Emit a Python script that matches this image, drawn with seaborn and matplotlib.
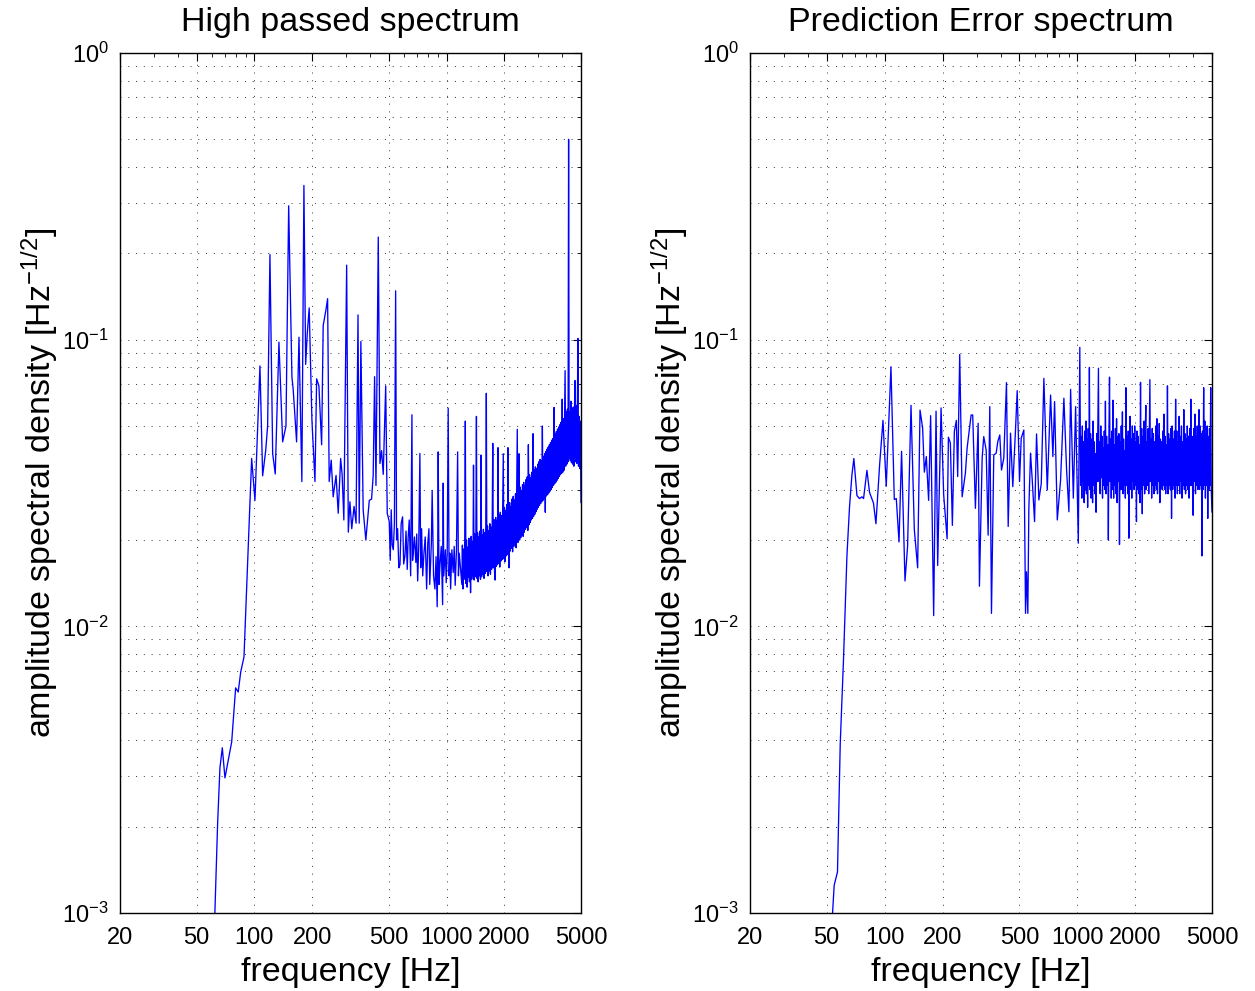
import numpy as np
import pandas as pd
import matplotlib
matplotlib.use("Agg")
import matplotlib.pyplot as plt
import seaborn as sns
from matplotlib.ticker import LogLocator, NullFormatter

# ---------------- data ----------------
# High passed spectrum: low-frequency part (read point by point)
left_freq_low = [
    58, 62, 64.4, 66.2, 68.1, 70.3, 76.2, 79.9, 82.4, 84.9,
    88.3, 96.8, 100.7, 106.9, 110.4, 114.5, 117.2, 120.5, 124.5, 128.4,
    134.2, 140.3, 146, 150.8, 156.8, 159.2, 165.8, 170.6, 176.6, 181,
    184.8, 188.4, 192.8, 199.2, 206.6, 210.8, 216.6, 223.8, 228, 235.6,
    240.4, 245, 251, 257, 266, 273, 281, 286, 292, 302,
    308, 314, 321, 330, 338, 346, 351, 358, 368, 380,
    388, 396, 407, 415, 422, 429, 441, 450, 459, 468,
    482, 491, 503, 509, 515, 521, 528, 535, 543, 549,
    556, 564, 572, 580, 590, 598, 607, 615, 624, 631,
    639, 650, 660, 665, 670, 680, 692, 699, 707, 716,
    726, 733, 741, 751, 762, 774, 787, 798, 809, 817,
    826, 833, 841, 855, 869, 881, 893, 898, 904, 913,
    923, 938, 953, 960, 966, 976, 985, 995, 1007, 1019,
    1030, 1039, 1049, 1065, 1082, 1095, 1108, 1125, 1141, 1152,
    1163,
]
left_amp_low = [
    0.0004, 0.0009, 0.00206, 0.00321, 0.00377, 0.00296, 0.00395, 0.0061, 0.0059, 0.00693,
    0.00782, 0.0385, 0.0275, 0.081, 0.0335, 0.041, 0.05, 0.198, 0.04, 0.034,
    0.098, 0.044, 0.05, 0.293, 0.074, 0.067, 0.044, 0.102, 0.032, 0.345,
    0.082, 0.105, 0.129, 0.0525, 0.032, 0.073, 0.069, 0.043, 0.112, 0.127,
    0.139, 0.032, 0.038, 0.0283, 0.0336, 0.0248, 0.0385, 0.0339, 0.0235, 0.182,
    0.0213, 0.0272, 0.0219, 0.0262, 0.0229, 0.122, 0.0229, 0.0985, 0.0255, 0.02,
    0.0235, 0.0275, 0.0278, 0.0336, 0.0743, 0.031, 0.228, 0.037, 0.041, 0.0339,
    0.069, 0.0248, 0.0232, 0.0170, 0.0255, 0.0192, 0.0185, 0.0228, 0.148, 0.0200,
    0.0219, 0.0160, 0.0164, 0.0228, 0.0241, 0.0165, 0.0176, 0.0215, 0.0158, 0.0205,
    0.0235, 0.0150, 0.0547, 0.0170, 0.0180, 0.0205, 0.0167, 0.0210, 0.0144, 0.0190,
    0.0401, 0.0160, 0.0219, 0.0150, 0.0180, 0.0205, 0.0135, 0.0195, 0.0219, 0.0140,
    0.0171, 0.0195, 0.0298, 0.0150, 0.0135, 0.0175, 0.0117, 0.0160, 0.0406, 0.0140,
    0.0163, 0.0190, 0.0119, 0.0316, 0.0150, 0.0167, 0.0185, 0.0142, 0.0180, 0.0577,
    0.0150, 0.0180, 0.0135, 0.0185, 0.0154, 0.0190, 0.0139, 0.0185, 0.0406, 0.0150,
    0.0180,
]

# Frequencies of the dense high-frequency band (both panels)
band_freq = [
    1200, 1208, 1217, 1225, 1234, 1242, 1251, 1260, 1269, 1278,
    1287, 1296, 1305, 1314, 1323, 1332, 1342, 1351, 1361, 1370,
    1380, 1390, 1399, 1409, 1419, 1429, 1439, 1449, 1459, 1469,
    1480, 1490, 1500, 1511, 1521, 1532, 1543, 1554, 1565, 1576,
    1587, 1598, 1609, 1620, 1632, 1643, 1655, 1666, 1678, 1690,
    1702, 1714, 1726, 1738, 1750, 1762, 1775, 1787, 1800, 1812,
    1825, 1838, 1851, 1864, 1877, 1890, 1903, 1917, 1930, 1944,
    1957, 1971, 1985, 1999, 2013, 2027, 2041, 2055, 2070, 2084,
    2099, 2114, 2128, 2143, 2158, 2173, 2189, 2204, 2220, 2235,
    2251, 2267, 2282, 2298, 2315, 2331, 2347, 2364, 2380, 2397,
    2414, 2431, 2448, 2465, 2482, 2500, 2517, 2535, 2553, 2571,
    2589, 2607, 2625, 2644, 2662, 2681, 2700, 2719, 2738, 2757,
    2776, 2796, 2815, 2835, 2855, 2875, 2895, 2915, 2936, 2956,
    2977, 2998, 3019, 3040, 3061, 3083, 3104, 3126, 3148, 3170,
    3192, 3215, 3237, 3260, 3283, 3306, 3329, 3352, 3376, 3399,
    3423, 3447, 3471, 3496, 3520, 3545, 3570, 3595, 3620, 3645,
    3671, 3697, 3722, 3749, 3775, 3801, 3828, 3855, 3882, 3909,
    3936, 3964, 3992, 4020, 4048, 4076, 4105, 4133, 4162, 4191,
    4221, 4250, 4280, 4310, 4340, 4370, 4401, 4432, 4463, 4494,
    4526, 4557, 4589, 4622, 4654, 4687, 4720, 4753, 4786, 4820,
    4853, 4887, 4922, 4956, 5000,
]
left_amp_band = [
    0.0140, 0.0192, 0.0135, 0.0186, 0.0146, 0.0198, 0.052, 0.0141, 0.0200, 0.0137,
    0.0189, 0.0148, 0.0203, 0.0143, 0.0195, 0.0131, 0.0206, 0.0146, 0.0198, 0.0150,
    0.0365, 0.0145, 0.0210, 0.0149, 0.0201, 0.054, 0.0147, 0.0212, 0.0143, 0.0205,
    0.0150, 0.0215, 0.0146, 0.0396, 0.0149, 0.0209, 0.0152, 0.0218, 0.0147, 0.0212,
    0.0153, 0.0220, 0.065, 0.0155, 0.0224, 0.0150, 0.0216, 0.0156, 0.0228, 0.0152,
    0.0222, 0.0158, 0.0231, 0.0435, 0.0160, 0.0236, 0.0155, 0.0145, 0.0240, 0.0162,
    0.0234, 0.0164, 0.042, 0.0166, 0.0245, 0.0161, 0.0250, 0.0169, 0.0243, 0.0171,
    0.0255, 0.040, 0.0172, 0.0260, 0.0168, 0.0254, 0.0176, 0.0266, 0.0178, 0.042,
    0.0180, 0.0160, 0.0270, 0.0183, 0.0262, 0.0187, 0.0278, 0.0182, 0.0284, 0.0190,
    0.0276, 0.0193, 0.0290, 0.0188, 0.0295, 0.0487, 0.0196, 0.0300, 0.040, 0.0200,
    0.0306, 0.0204, 0.0298, 0.0209, 0.0312, 0.0206, 0.0318, 0.0213, 0.0310, 0.0218,
    0.0325, 0.0221, 0.0332, 0.0216, 0.043, 0.0226, 0.0338, 0.0230, 0.0330, 0.0235,
    0.0345, 0.0238, 0.047, 0.0242, 0.0352, 0.0246, 0.0360, 0.0251, 0.0356, 0.0256,
    0.0368, 0.0260, 0.0375, 0.0264, 0.0382, 0.0268, 0.0378, 0.0272, 0.050, 0.0275,
    0.0392, 0.0279, 0.0400, 0.0250, 0.0407, 0.0285, 0.0415, 0.0288, 0.0422, 0.0292,
    0.0430, 0.0296, 0.0438, 0.0300, 0.0446, 0.0305, 0.0452, 0.0310, 0.058, 0.0314,
    0.0470, 0.0318, 0.0478, 0.0323, 0.0488, 0.0328, 0.0496, 0.0333, 0.0505, 0.0338,
    0.0515, 0.0342, 0.062, 0.0345, 0.0530, 0.0350, 0.0545, 0.078, 0.0362, 0.0560,
    0.0368, 0.0572, 0.0375, 0.50, 0.0385, 0.0560, 0.0378, 0.061, 0.0372, 0.0575,
    0.0368, 0.0582, 0.0362, 0.0568, 0.072, 0.0375, 0.0590, 0.0370, 0.0575, 0.101,
    0.0362, 0.0540, 0.0355, 0.0520, 0.0270,
]

# Prediction Error spectrum: low-frequency part (read point by point)
right_freq_low = [
    52, 54.7, 56.9, 58.8, 61.1, 63.7, 65.7, 67.6, 69.2, 71.8,
    74.0, 76.2, 77.7, 80.9, 83.5, 87.5, 90.1, 94.1, 98.0, 101.9,
    107.8, 112.2, 114.9, 118.7, 122.4, 127.5, 131.5, 137.0, 142.5, 148.3,
    152.6, 157.4, 160.7, 164.5, 169.1, 173.2, 179.6, 184.8, 188.4, 196.2,
    202.4, 210.9, 214.2, 219.3, 224.6, 230.0, 235.6, 239.3, 245.2, 252.4,
    262.4, 267.8, 281.0, 286.4, 295.8, 305.6, 310.4, 320.6, 326.8, 336.4,
    344.4, 351.2, 358.4, 368.4, 379.2, 386.4, 395.8, 404.0, 415.2, 428.8,
    437.6, 450.0, 462.4, 477.6, 487.4, 501.2, 511.4, 527.6, 538.4, 545.0,
    553.4, 560.2, 571.6, 583.4, 599.8, 614.2, 631.4, 649.8, 670.4, 698.2,
    726.4, 746.6, 762.0, 787.0, 818.6, 851.6, 879.6, 904.2, 922.8, 953.2,
    979.6, 1011.8, 1030,
    1040, 1047, 1055, 1062, 1070, 1077, 1085, 1092, 1100, 1108,
    1115, 1123, 1131, 1139, 1147, 1155, 1163, 1171, 1179, 1188,
]
right_amp_low = [
    0.0007, 0.00125, 0.00139, 0.00389, 0.00757, 0.0176, 0.0261, 0.0337, 0.0385, 0.0286,
    0.0279, 0.0283, 0.0279, 0.035, 0.0293, 0.0269, 0.0228, 0.0364, 0.0523, 0.0308,
    0.0804, 0.0277, 0.0279, 0.0197, 0.0408, 0.0144, 0.019, 0.059, 0.0218, 0.016,
    0.0568, 0.0492, 0.0345, 0.0391, 0.0275, 0.0543, 0.0109, 0.0563, 0.0163, 0.0578,
    0.0288, 0.0202, 0.0457, 0.0436, 0.0225, 0.0478, 0.0523, 0.0333, 0.0888, 0.0283,
    0.0342, 0.0418, 0.0546, 0.0546, 0.0258, 0.0511, 0.0138, 0.0386, 0.0459, 0.0412,
    0.0208, 0.0584, 0.0111, 0.0396, 0.0402, 0.0441, 0.0465, 0.0351, 0.0386, 0.0708,
    0.0223, 0.0472, 0.0307, 0.0484, 0.0664, 0.032, 0.0453, 0.0484, 0.0111, 0.0155,
    0.0111, 0.0258, 0.0402, 0.0324, 0.0232, 0.0469, 0.0276, 0.0314, 0.0733, 0.0299,
    0.0641, 0.0391, 0.0608, 0.0235, 0.0324, 0.0625, 0.0351, 0.0251, 0.0671, 0.028,
    0.0584, 0.0195, 0.094,
    0.031, 0.046, 0.028, 0.050, 0.032, 0.044, 0.027, 0.048, 0.030, 0.052,
    0.029, 0.045, 0.026, 0.049, 0.031, 0.080, 0.030, 0.047, 0.028, 0.045,
]
right_amp_band = [
    0.027, 0.052, 0.031, 0.044, 0.029, 0.040, 0.025, 0.047, 0.032, 0.049,
    0.0795, 0.032, 0.044, 0.029, 0.050, 0.033, 0.046, 0.028, 0.042, 0.031,
    0.048, 0.030, 0.061, 0.029, 0.046, 0.031, 0.043, 0.020, 0.047, 0.074,
    0.032, 0.045, 0.028, 0.048, 0.030, 0.0615, 0.028, 0.043, 0.031, 0.049,
    0.029, 0.053, 0.027, 0.046, 0.032, 0.047, 0.0193, 0.044, 0.030, 0.050,
    0.030, 0.056, 0.029, 0.045, 0.031, 0.041, 0.028, 0.068, 0.031, 0.046,
    0.029, 0.048, 0.0203, 0.044, 0.054, 0.030, 0.045, 0.028, 0.050, 0.032,
    0.047, 0.030, 0.050, 0.031, 0.044, 0.0232, 0.048, 0.030, 0.046, 0.029,
    0.043, 0.027, 0.071, 0.030, 0.049, 0.0247, 0.046, 0.031, 0.052, 0.029,
    0.047, 0.059, 0.030, 0.044, 0.031, 0.049, 0.029, 0.046, 0.0725, 0.032,
    0.045, 0.028, 0.049, 0.031, 0.047, 0.029, 0.044, 0.031, 0.050, 0.030,
    0.053, 0.029, 0.046, 0.032, 0.051, 0.027, 0.045, 0.031, 0.044, 0.030,
    0.048, 0.031, 0.055, 0.030, 0.046, 0.029, 0.043, 0.031, 0.069, 0.029,
    0.047, 0.031, 0.045, 0.030, 0.049, 0.0238, 0.050, 0.030, 0.045, 0.031,
    0.048, 0.028, 0.062, 0.031, 0.048, 0.029, 0.044, 0.031, 0.054, 0.029,
    0.046, 0.032, 0.050, 0.028, 0.044, 0.031, 0.057, 0.030, 0.047, 0.029,
    0.045, 0.031, 0.050, 0.030, 0.046, 0.028, 0.049, 0.031, 0.062, 0.031,
    0.046, 0.030, 0.0244, 0.049, 0.032, 0.055, 0.029, 0.046, 0.031, 0.050,
    0.030, 0.046, 0.057, 0.030, 0.050, 0.031, 0.047, 0.0176, 0.048, 0.030,
    0.068, 0.031, 0.052, 0.028, 0.047, 0.031, 0.050, 0.0238, 0.046, 0.030,
    0.049, 0.031, 0.068, 0.030, 0.025,
]

x_ticks = [20, 50, 100, 200, 500, 1000, 2000, 5000]
x_tick_labels = ["20", "50", "100", "200", "500", "1000", "2000", "5000"]
titles = ["High passed spectrum", "Prediction Error spectrum"]
x_label = "frequency [Hz]"
y_label = r"amplitude spectral density [Hz$^{-1/2}$]"

# ---------------- style ----------------
sns.set_style("white")
plt.rcParams["font.family"] = ["Liberation Sans", "DejaVu Sans"]
plt.rcParams["mathtext.fontset"] = "custom"
plt.rcParams["mathtext.rm"] = "Liberation Sans"
plt.rcParams["mathtext.it"] = "Liberation Sans:italic"
plt.rcParams["mathtext.bf"] = "Liberation Sans:bold"
plt.rcParams["mathtext.default"] = "regular"
plt.rcParams["text.color"] = "black"
plt.rcParams["axes.labelcolor"] = "black"
plt.rcParams["xtick.color"] = "black"
plt.rcParams["ytick.color"] = "black"

fig = plt.figure(figsize=(12.55, 9.91), dpi=100)
W, H = 1255, 991
positions = [
    [120 / W, 78 / H, 461 / W, 860 / H],
    [750 / W, 78 / H, 462 / W, 860 / H],
]
panels = [
    (left_freq_low + band_freq, left_amp_low + left_amp_band),
    (right_freq_low + band_freq, right_amp_low + right_amp_band),
]

grid_kw = dict(color="0.2", linestyle=(0, (1, 7)), linewidth=0.7)

for pos, (fr, am), title in zip(positions, panels, titles):
    assert len(fr) == len(am), (len(fr), len(am))
    ax = fig.add_axes(pos)
    ax.set_xscale("log")
    ax.set_yscale("log")
    df = pd.DataFrame({"freq": fr, "amp": am})
    sns.lineplot(data=df, x="freq", y="amp", ax=ax, color="#0000ff",
                 linewidth=0.95, estimator=None, sort=False)
    ax.set_xlim(20, 5000)
    ax.set_ylim(1e-3, 1)
    ax.set_xticks(x_ticks)
    ax.set_xticklabels(x_tick_labels)
    ax.xaxis.set_minor_locator(LogLocator(base=10, subs=np.arange(2, 10)))
    ax.xaxis.set_minor_formatter(NullFormatter())
    ax.yaxis.set_major_locator(LogLocator(base=10, numticks=10))
    ax.yaxis.set_minor_locator(LogLocator(base=10, subs=np.arange(2, 10), numticks=10))
    ax.yaxis.set_minor_formatter(NullFormatter())

    ax.grid(False)
    ax.xaxis.grid(True, which="major", **grid_kw)
    ax.yaxis.grid(True, which="both", **grid_kw)
    ax.set_axisbelow(True)

    ax.tick_params(which="both", direction="in", top=True, right=True,
                   colors="black", labelsize=17)
    ax.tick_params(which="major", length=6, width=0.8)
    ax.tick_params(which="minor", length=3, width=0.6)
    ax.tick_params(axis="x", which="major", pad=10)
    ax.tick_params(axis="y", which="major", pad=8)
    for s in ax.spines.values():
        s.set_color("black")
        s.set_linewidth(1.0)

    ax.set_title(title, fontsize=24.5, pad=16)
    ax.set_xlabel(x_label, fontsize=24.5, labelpad=6)
    ax.set_ylabel(y_label, fontsize=24.5, labelpad=2)

fig.savefig("out.png", dpi=100, facecolor="white")
